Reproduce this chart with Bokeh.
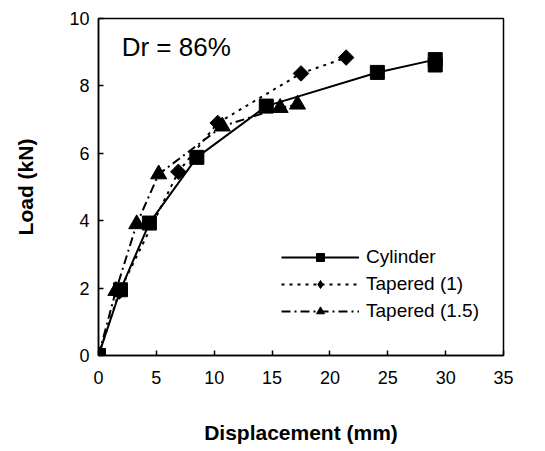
import math
from bokeh.plotting import figure
from bokeh.models import Range1d, Legend, LegendItem, Label, FixedTicker
from bokeh.embed import file_html
from bokeh.resources import INLINE

# Data
cyl_x = [0, 1.9, 4.4, 8.5, 14.5, 24.1, 29.1, 29.1]
cyl_y = [0, 1.95, 3.93, 5.88, 7.4, 8.4, 8.78, 8.62]

tap1_x = [0, 1.8, 6.9, 10.3, 17.5, 21.4]
tap1_y = [0, 1.9, 5.45, 6.9, 8.37, 8.84]

tap15_x = [0, 1.5, 3.3, 5.2, 10.7, 15.7, 17.2]
tap15_y = [0, 1.92, 3.9, 5.38, 6.8, 7.35, 7.45]

x_ticks = [0, 5, 10, 15, 20, 25, 30, 35]
y_ticks = [0, 2, 4, 6, 8, 10]

FONT = "Liberation Sans"

p = figure(width=545, height=451, output_backend="svg", toolbar_location=None,
           x_range=Range1d(0, 35), y_range=Range1d(0, 10),
           min_border_left=98, min_border_right=42, min_border_top=18, min_border_bottom=96)

p.xgrid.visible = False
p.ygrid.visible = False
p.outline_line_color = "black"
p.outline_line_width = 1.5
p.background_fill_color = "white"
p.border_fill_color = "white"

for ax in (p.xaxis[0], p.yaxis[0]):
    ax.axis_line_width = 1.5
    ax.major_tick_in = 5
    ax.major_tick_out = 0
    ax.minor_tick_line_color = None
    ax.major_tick_line_width = 1.5
    ax.major_label_text_font = FONT
    ax.major_label_text_font_size = "18px"
    ax.major_label_text_color = "black"
    ax.axis_label_text_font = FONT
    ax.axis_label_text_font_style = "bold"
    ax.axis_label_text_font_size = "21px"
    ax.axis_label_text_color = "black"

p.xaxis.ticker = FixedTicker(ticks=x_ticks)
p.yaxis.ticker = FixedTicker(ticks=y_ticks)
p.xaxis.axis_label = "Displacement (mm)"
p.yaxis.axis_label = "Load (kN)"
p.xaxis.major_label_standoff = 15
p.xaxis.axis_label_standoff = 34
p.yaxis.major_label_standoff = 9
p.yaxis.axis_label_standoff = 29

l1 = p.line(cyl_x, cyl_y, line_color="black", line_width=2)
m1 = p.scatter(cyl_x, cyl_y, marker="square", size=14, fill_color="black", line_color="black")

l2 = p.line(tap1_x, tap1_y, line_color="black", line_width=2, line_dash="3 5")
m2 = p.scatter(tap1_x, tap1_y, marker="square", size=11, angle=math.pi / 4,
               fill_color="black", line_color="black")
# legend proxy: a diamond drawn outside the visible range
m2_leg = p.scatter(x=[-100], y=[-100], marker="diamond", size=17,
                   fill_color="black", line_color="black")

l3 = p.line(tap15_x, tap15_y, line_color="black", line_width=2, line_dash="9 4 2 4")
m3 = p.scatter(tap15_x, tap15_y, marker="triangle", size=16, fill_color="black", line_color="black")

legend = Legend(items=[
    LegendItem(label="Cylinder", renderers=[l1, m1]),
    LegendItem(label="Tapered (1)", renderers=[l2, m2_leg]),
    LegendItem(label="Tapered (1.5)", renderers=[l3, m3]),
], location=(183, 33))
legend.padding = 0
legend.margin = 0
legend.spacing = 5
legend.glyph_width = 78
legend.glyph_height = 20
legend.label_height = 20
legend.label_standoff = 7
legend.label_text_font = FONT
legend.label_text_font_size = "19px"
legend.label_text_color = "black"
legend.border_line_color = None
legend.background_fill_alpha = 0
p.add_layout(legend, "center")

p.add_layout(Label(x=2.0, y=9.15, text="Dr = 86%", text_baseline="middle",
                   text_font=FONT, text_font_size="26px", text_color="black"))

open("out.html", "w").write(file_html(p, INLINE))
